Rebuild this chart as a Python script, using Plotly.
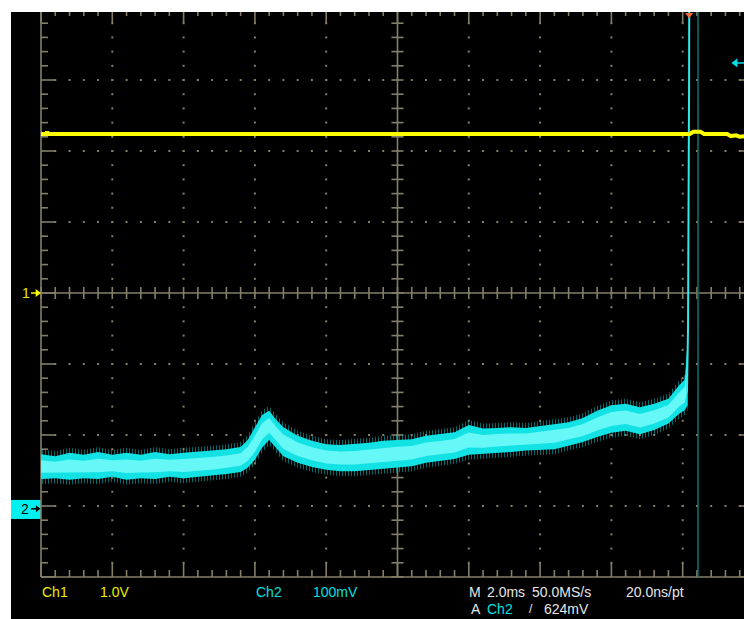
import numpy as np
import plotly.graph_objects as go

# Horizontal: 2.0 ms/div, Ch1: 1.0 V/div (ground at centre), Ch2: 100 mV/div (ground marker 3 div below centre)
ch2_time_ms = [0.0, 0.4, 0.8, 1.2, 1.6, 2.0, 2.4, 2.8, 3.2, 3.6, 4.0, 4.4, 4.8, 5.2, 5.6,
               5.8, 6.0, 6.2, 6.4, 6.6, 6.8,
               7.2, 7.6, 8.0, 8.4, 8.8, 9.2, 9.6, 10.0, 10.4, 10.8, 11.2, 11.6, 12.0, 12.4,
               12.8, 13.2, 13.6, 14.0, 14.4, 14.8, 15.2, 15.6, 16.0, 16.4, 16.8, 17.2, 17.6,
               17.9, 18.06, 18.14]
ch2_upper_mv = [73, 70, 75, 72, 76, 72, 75, 72, 76, 73, 75, 76, 78, 80, 83,
                93, 110, 128, 134, 121, 111,
                99, 92, 87, 86, 87, 89, 92, 93, 94, 99, 101, 104, 114, 109,
                110, 111, 110, 113, 116, 118, 124, 134, 142, 144, 139, 144, 151,
                170, 178, 234]
ch2_lower_mv = [38, 39, 37, 39, 38, 41, 37, 39, 38, 41, 39, 41, 42, 45, 48,
                54, 65, 82, 93, 82, 70,
                61, 55, 51, 49, 49, 51, 52, 55, 56, 61, 63, 66, 72, 73,
                75, 76, 78, 79, 80, 85, 90, 97, 103, 106, 101, 107, 116,
                130, 135, 142]
# trigger edge (rises off the top of the screen)
ch2_edge_time_ms = [18.12, 18.15, 18.18, 18.19]
ch2_edge_mv = [160, 250, 600, 900]
# faint saturated segment after the edge
ch2_tail_time_ms = [18.43, 18.43]
ch2_tail_mv = [-100, 900]

ch1_time_ms = [0.0, 0.14, 0.17, 0.2, 18.2, 18.3, 18.5, 18.6, 19.25, 19.35, 19.5, 19.6, 19.75]
ch1_volts = [2.24, 2.24, 2.27, 2.24, 2.24, 2.27, 2.27, 2.24, 2.24, 2.21, 2.22, 2.20, 2.21]

ms_per_div = 2.0
ch1_v_per_div = 1.0
ch2_mv_per_div = 100.0
ch2_offset_div = -3.0
trig_level_mv = 624.0
trig_time_ms = 18.18

# ---------------- conversion to screen divisions ----------------
tx = np.array(ch2_time_ms) / ms_per_div
up = np.array(ch2_upper_mv) / ch2_mv_per_div + ch2_offset_div
lo = np.array(ch2_lower_mv) / ch2_mv_per_div + ch2_offset_div
cen = (up + lo) / 2
half = (up - lo) / 2

fig = go.Figure()

# ---------------- graticule ----------------
G = 'rgb(132,127,104)'
lx, ly = [], []


def seg(x0, y0, x1, y1):
    lx.extend([x0, x1, None])
    ly.extend([y0, y1, None])


seg(0, -4, 0, 4)
seg(0, -4, 10, -4)
seg(0, 4, 10, 4)
seg(10, -4, 10, 4)
seg(5, -4, 5, 4)
seg(0, 0, 10, 0)
for i in range(51):
    x = i * 0.2
    L = 0.197 if i % 5 == 0 else 0.098
    seg(x, -4, x, -4 + L)
    seg(x, 4, x, 4 - L)
    seg(x, -0.085, x, 0.085)
for j in range(41):
    y = -4 + j * 0.2
    L = 0.2 if j % 5 == 0 else 0.098
    seg(0, y, L, y)
    seg(10, y, 10 - L, y)
    seg(5 - 0.085, y, 5 + 0.085, y)

fig.add_trace(go.Scatter(x=lx, y=ly, mode='lines', line=dict(color=G, width=1.6),
                         hoverinfo='skip', showlegend=False))
dx, dy = [], []
for gx in [1, 2, 3, 4, 6, 7, 8, 9]:
    for j in range(1, 40):
        dx.append(gx); dy.append(-4 + j * 0.2)
for gy in [-3, -2, -1, 1, 2, 3]:
    for i in range(1, 50):
        dx.append(i * 0.2); dy.append(gy)
fig.add_trace(go.Scatter(x=dx, y=dy, mode='markers',
                         marker=dict(color=G, size=2, symbol='square', line=dict(width=0)),
                         hoverinfo='skip', showlegend=False))

# ---------------- Ch2 (cyan, noisy) ----------------
NOLINE = dict(width=0, color='rgba(0,0,0,0)')
edge = 0.07
# outer noisy fringe: fine vertical-stripe pattern
fig.add_trace(go.Scatter(x=tx, y=lo - edge, mode='lines', line=NOLINE, hoverinfo='skip', showlegend=False))
fig.add_trace(go.Scatter(x=tx, y=up + edge, mode='lines', line=NOLINE, fill='tonexty',
                         fillcolor='rgba(0,0,0,0)',
                         fillpattern=dict(shape='|', fgcolor='#00d2d6', bgcolor='rgba(0,0,0,0)',
                                          size=3, solidity=0.35),
                         hoverinfo='skip', showlegend=False))
# main band
fig.add_trace(go.Scatter(x=tx, y=lo, mode='lines', line=NOLINE, hoverinfo='skip', showlegend=False))
fig.add_trace(go.Scatter(x=tx, y=up, mode='lines', line=NOLINE, fill='tonexty', fillcolor='#12e2e4',
                         hoverinfo='skip', showlegend=False))
# bright core
fig.add_trace(go.Scatter(x=tx, y=cen - 0.5 * half, mode='lines', line=NOLINE, hoverinfo='skip', showlegend=False))
fig.add_trace(go.Scatter(x=tx, y=cen + 0.5 * half, mode='lines', line=NOLINE, fill='tonexty',
                         fillcolor='#66f7f7', hoverinfo='skip', showlegend=False))
fig.add_trace(go.Scatter(x=np.array(ch2_edge_time_ms) / ms_per_div,
                         y=np.array(ch2_edge_mv) / ch2_mv_per_div + ch2_offset_div,
                         mode='lines', line=dict(color='#30e8ea', width=2), hoverinfo='skip', showlegend=False))
fig.add_trace(go.Scatter(x=np.array(ch2_tail_time_ms) / ms_per_div,
                         y=np.array(ch2_tail_mv) / ch2_mv_per_div + ch2_offset_div,
                         mode='lines', line=dict(color='#0b7373', width=1.5), hoverinfo='skip', showlegend=False))

# ---------------- Ch1 (yellow) ----------------
fig.add_trace(go.Scatter(x=np.array(ch1_time_ms) / ms_per_div, y=np.array(ch1_volts) / ch1_v_per_div,
                         mode='lines', line=dict(color='#ffff00', width=4), hoverinfo='skip', showlegend=False))

# ---------------- markers ----------------
# Ch1 ground marker
fig.add_trace(go.Scatter(x=[-0.14, -0.06], y=[0, 0], mode='lines', line=dict(color='#ffff00', width=1.5),
                         hoverinfo='skip', showlegend=False))
fig.add_trace(go.Scatter(x=[-0.05], y=[0], mode='markers',
                         marker=dict(symbol='triangle-right', size=7, color='#ffff00', line=dict(width=0)),
                         hoverinfo='skip', showlegend=False))
# Ch2 ground marker box
fig.add_shape(type='rect', x0=-0.421, x1=0, y0=-3.183, y1=-2.915, fillcolor='#00f0f0', line=dict(width=0),
              layer='below')
fig.add_trace(go.Scatter(x=[-0.14, -0.06], y=[-3.04, -3.04], mode='lines', line=dict(color='#000000', width=1.5),
                         hoverinfo='skip', showlegend=False))
fig.add_trace(go.Scatter(x=[-0.05], y=[-3.04], mode='markers',
                         marker=dict(symbol='triangle-right', size=6, color='#000000', line=dict(width=0)),
                         hoverinfo='skip', showlegend=False))
# trigger level arrow (right)
tl = trig_level_mv / ch2_mv_per_div + ch2_offset_div
fig.add_trace(go.Scatter(x=[9.76, 9.86], y=[tl, tl], mode='lines', line=dict(color='#00e0e8', width=1.5),
                         hoverinfo='skip', showlegend=False))
fig.add_trace(go.Scatter(x=[9.74], y=[tl], mode='markers',
                         marker=dict(symbol='triangle-left', size=8, color='#00e0e8', line=dict(width=0)),
                         hoverinfo='skip', showlegend=False))
# trigger position marker (top)
fig.add_trace(go.Scatter(x=[trig_time_ms / ms_per_div], y=[3.92], mode='markers',
                         marker=dict(symbol='triangle-down', size=7, color='#ff6a30', line=dict(width=0)),
                         hoverinfo='skip', showlegend=False))

# ---------------- text ----------------
F = 'Liberation Sans'
Y1, W, C = '#eeee00', '#e6e6e6', '#00e0e0'


def txt(x, y, s, color, size=14):
    fig.add_annotation(x=x, y=y, xref='x', yref='y', text=s, showarrow=False, xanchor='left',
                       yanchor='middle', font=dict(family=F, size=size, color=color))


r1, r2 = -4.218, -4.45
txt(-0.014, r1, 'Ch1', Y1)
txt(0.80, r1, '1.0V', Y1)
txt(2.99, r1, 'Ch2', C)
txt(3.79, r1, '100mV', C)
txt(5.975, r1, 'M', W)
txt(6.23, r1, '2.0ms', W)
txt(6.86, r1, '50.0MS/s', W)
txt(8.18, r1, '20.0ns/pt', W)
txt(6.0, r2, 'A', W)
txt(6.23, r2, 'Ch2', C)
txt(6.82, r2, '/', W, 12)
txt(7.02, r2, '624mV', W)
txt(-0.30, 0, '1', Y1, 14)
txt(-0.31, -3.04, '2', '#000000', 14)

fig.update_layout(
    width=744, height=619,
    margin=dict(l=11, r=0, t=12, b=0, pad=0),
    paper_bgcolor='white', plot_bgcolor='black',
    xaxis=dict(range=[-0.4208, 9.860], visible=False, fixedrange=True),
    yaxis=dict(range=[-4.592, 3.958], visible=False, fixedrange=True),
    showlegend=False,
)
fig.write_html('out.html', config={'displayModeBar': False},
               post_script="document.body.style.margin='0';document.body.style.overflow='hidden';")
